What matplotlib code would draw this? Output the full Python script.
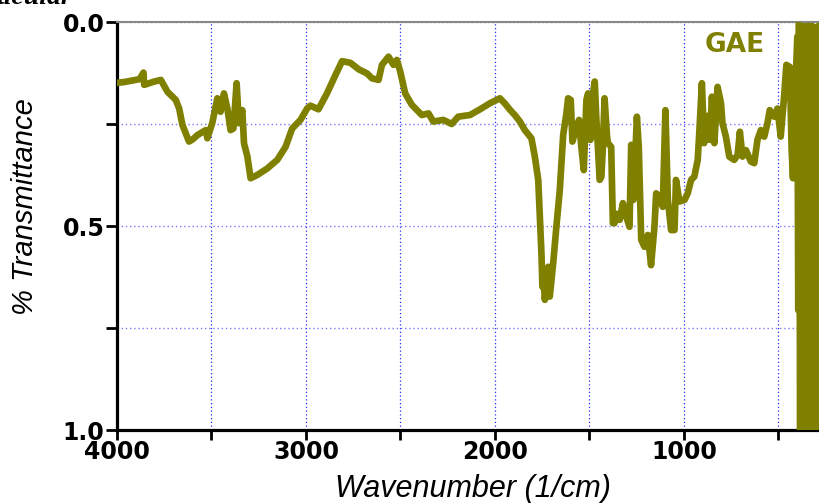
import matplotlib
matplotlib.use("Agg")
import matplotlib.pyplot as plt
from matplotlib.ticker import FixedLocator, FixedFormatter

# ---- data ----
wavenumber = [4000, 3996, 3960, 3926, 3880, 3860, 3856, 3830, 3803, 3768, 3733, 3689, 3671, 3654,
              3619, 3600, 3574, 3530, 3522, 3496, 3469, 3452, 3434, 3416, 3399, 3384, 3367, 3355,
              3337, 3328, 3310, 3293, 3258, 3205, 3152, 3108, 3073, 3029, 2994, 2976, 2934,
              2889, 2844, 2809, 2765, 2721, 2677, 2651, 2616, 2598, 2563, 2537, 2519, 2501, 2475,
              2440, 2387, 2352, 2326, 2273, 2229, 2194, 2132, 2079, 2026, 1974, 1947, 1921, 1895,
              1868, 1842, 1807, 1789, 1771, 1763, 1754, 1749, 1744, 1736, 1727, 1718, 1710, 1692,
              1675, 1657, 1639, 1622, 1613, 1599, 1590, 1573, 1555, 1543, 1530, 1516, 1507, 1495,
              1481, 1472, 1464, 1446, 1437, 1429, 1420, 1407, 1402, 1385, 1376, 1367, 1358, 1340,
              1323, 1305, 1288, 1279, 1267, 1249, 1239, 1226, 1209, 1191, 1174, 1156, 1147, 1129,
              1112, 1098, 1085, 1068, 1050, 1042, 1024, 997, 980, 962, 945, 927, 919, 905, 893,
              874, 862, 852, 839, 822, 804, 796, 778, 760, 734, 716, 704, 690, 672, 646, 628, 611,
              593, 575, 558, 546, 522, 505, 488, 470, 458, 440, 430, 423, 412, 400, 395, 391,
              385, 380, 375, 370, 365, 360, 355, 350, 345, 340, 335, 330, 325, 320, 315, 310,
              305, 300, 295, 290, 285, 280]
transmittance = [0.149, 0.149, 0.147, 0.144, 0.140, 0.124, 0.154, 0.150, 0.146, 0.142, 0.171, 0.191,
                 0.212, 0.252, 0.293, 0.288, 0.277, 0.265, 0.285, 0.248, 0.187, 0.220, 0.175, 0.212,
                 0.265, 0.261, 0.150, 0.248, 0.216, 0.297, 0.330, 0.383, 0.375, 0.359, 0.338, 0.306,
                 0.261, 0.240, 0.212, 0.205, 0.214,
                 0.175, 0.130, 0.096, 0.100, 0.116, 0.126, 0.138, 0.142, 0.105, 0.085, 0.105, 0.093,
                 0.122, 0.175, 0.203, 0.228, 0.224, 0.244, 0.240, 0.250, 0.232, 0.228, 0.214, 0.199,
                 0.187, 0.200, 0.215, 0.228, 0.244, 0.265, 0.285, 0.330, 0.387, 0.469, 0.567, 0.649,
                 0.620, 0.681, 0.640, 0.600, 0.673, 0.592, 0.502, 0.412, 0.277, 0.224, 0.187, 0.191,
                 0.293, 0.265, 0.240, 0.306, 0.363, 0.191, 0.175, 0.289, 0.175, 0.146, 0.232, 0.387,
                 0.380, 0.306, 0.187, 0.280, 0.297, 0.306, 0.493, 0.493, 0.470, 0.485, 0.444, 0.477,
                 0.502, 0.301, 0.436, 0.232, 0.306, 0.534, 0.551, 0.522, 0.596, 0.502, 0.420, 0.428,
                 0.453, 0.216, 0.436, 0.510, 0.510, 0.387, 0.440, 0.436, 0.420, 0.387, 0.379, 0.338,
                 0.273, 0.150, 0.297, 0.230, 0.289, 0.183, 0.297, 0.159, 0.199, 0.248, 0.281, 0.330,
                 0.338, 0.326, 0.269, 0.330, 0.314, 0.342, 0.346, 0.289, 0.265, 0.281, 0.248, 0.216,
                 0.232, 0.212, 0.281, 0.183, 0.105, 0.110, 0.314, 0.383, 0.183, 0.036, 0.706, 0.003,
                 1.0, 0.01, 1.0, 0.02, 1.0, 0.01, 1.0, 0.03, 1.0, 0.01, 1.0, 0.02, 1.0, 0.01, 1.0,
                 0.03, 1.0, 0.02, 1.0, 0.01, 1.0, 0.5]

x_major = [4000, 3000, 2000, 1000]
x_major_labels = ["4000", "3000", "2000", "1000"]
x_minor = [3500, 2500, 1500, 500]
y_major = [0.0, 0.5, 1.0]
y_major_labels = ["0.0", "0.5", "1.0"]
y_minor = [0.25, 0.75]
series_name = "GAE"

OLIVE = "#808000"

fig = plt.figure(figsize=(8.2, 5.03), dpi=100)
ax = fig.add_axes([117 / 820, 1 - 430 / 503, (820 - 117) / 820, (430 - 22) / 503])

ax.plot(wavenumber, transmittance, color=OLIVE, lw=4.8,
        solid_joinstyle="round", solid_capstyle="round", zorder=3)

ax.set_xlim(4000, 280)
ax.set_ylim(1.0, 0.0)

ax.xaxis.set_major_locator(FixedLocator(x_major))
ax.xaxis.set_major_formatter(FixedFormatter(x_major_labels))
ax.xaxis.set_minor_locator(FixedLocator(x_minor))
ax.yaxis.set_major_locator(FixedLocator(y_major))
ax.yaxis.set_major_formatter(FixedFormatter(y_major_labels))
ax.yaxis.set_minor_locator(FixedLocator(y_minor))

ax.grid(True, which="both", axis="x", color="#2a2aff", lw=0.9, linestyle=(0, (1, 2)), zorder=1)
ax.grid(True, which="both", axis="y", color="#7a7aff", lw=1.0, linestyle=(0, (1, 2)), zorder=1)

for lab in ax.get_xticklabels() + ax.get_yticklabels():
    lab.set_fontfamily("DejaVu Sans")
    lab.set_fontweight("bold")
    lab.set_fontsize(17)

ax.tick_params(axis="x", which="both", direction="out", length=7, width=2, pad=0.5, colors="black")
ax.tick_params(axis="y", which="both", direction="out", length=8, width=2, pad=1, colors="black")

ax.spines["left"].set_linewidth(2.3)
ax.spines["bottom"].set_linewidth(2.3)
ax.spines["top"].set_linewidth(1.5)
ax.spines["top"].set_color("#888888")
ax.spines["right"].set_visible(False)

fig.text(473 / 820, 1 - 489 / 503, "Wavenumber (1/cm)", ha="center", va="center",
         fontfamily="Liberation Sans", style="italic", fontsize=22)
fig.text(25 / 820, 1 - 207 / 503, "% Transmittance", ha="center", va="center", rotation=90,
         fontfamily="Liberation Sans", style="italic", fontsize=21)
fig.text(705 / 820, 1 - 52 / 503, series_name, ha="left", va="baseline", color=OLIVE,
         fontfamily="DejaVu Sans", fontweight="bold", fontsize=19)
fig.text(-0.005, 1 - 4 / 503, "ticular", ha="left", va="baseline",
         fontfamily="Liberation Serif", style="italic", fontweight="bold", fontsize=20)

fig.savefig("out.png", dpi=100)
